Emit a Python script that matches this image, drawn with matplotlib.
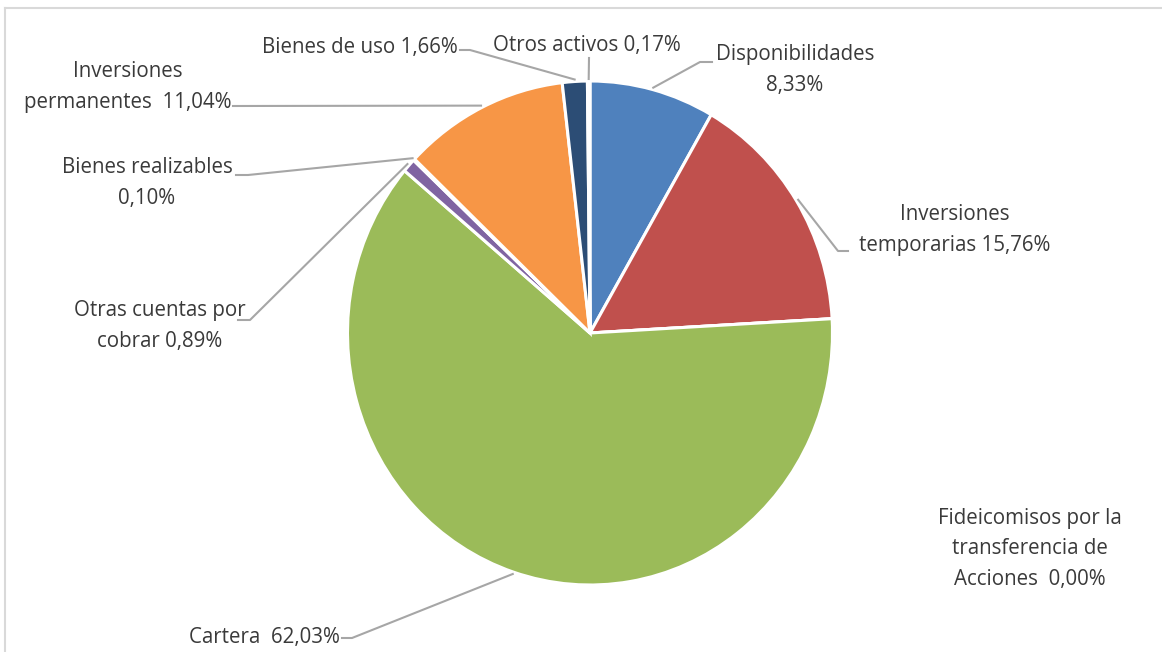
import numpy as np
import matplotlib
matplotlib.use("Agg")
from matplotlib import pyplot as plt
from matplotlib.lines import Line2D

# composition of assets, clockwise from the top
labels = ['Disponibilidades\n8,33%',
          'Inversiones\ntemporarias 15,76%',
          'Fideicomisos por la\ntransferencia de\nAcciones  0,00%',
          'Cartera  62,03%',
          'Otras cuentas por\ncobrar 0,89%',
          'Bienes realizables\n0,10%',
          'Inversiones\npermanentes  11,04%',
          'Bienes de uso 1,66%',
          'Otros activos 0,17%']
values = [8.33, 15.76, 0.00, 62.03, 0.89, 0.10, 11.04, 1.66, 0.17]
colors = ['#4F81BD', '#C0504D', '#9BBB59', '#9BBB59', '#8064A2',
          '#4BACC6', '#F79646', '#2C4D75', '#772C2A']

# label layout in pixels: text anchor, alignment, leader elbow (None = no leader)
label_xy = [(795, 70), (955, 230), (1030, 549), (340, 638), (160, 326),
            (147, 183), (128, 87), (458, 47), (587, 46)]
label_ha = ['center', 'center', 'center', 'right', 'center',
            'center', 'center', 'right', 'center']
elbow = [[(712, 62), (700, 62)], [(848, 251), (838, 251)], None,
         [(342, 638), (352, 638)], [(238, 320), (250, 320)],
         [(236, 175), (248, 175)], [(233, 106)], [(460, 50), (470, 50)],
         [(589, 58)]]

W, H = 1162, 652
cx, cy, rx, ry = 590, 333, 242.5, 252

fig = plt.figure(figsize=(W / 100, H / 100), dpi=100)
fig.patch.set_facecolor('white')

# pie axes, stretched slightly like the original export
ax = fig.add_axes([(cx - rx) / W, (H - cy - ry) / H, 2 * rx / W, 2 * ry / H])
ax.pie(values, colors=colors, startangle=90, counterclock=False, radius=1,
       wedgeprops=dict(edgecolor='white', linewidth=2.2))
ax.set_aspect('auto')
ax.set_xlim(-1, 1)
ax.set_ylim(-1, 1)
ax.axis('off')

# overlay axes in pixel coordinates for labels and leader lines
ov = fig.add_axes([0, 0, 1, 1])
ov.set_xlim(0, W)
ov.set_ylim(H, 0)
ov.axis('off')
ov.patch.set_alpha(0)

fig.add_artist(Line2D([5 / W, 5 / W], [0, 1 - 8 / H], color='#D9D9D9', lw=1.5))
fig.add_artist(Line2D([5 / W, 1], [1 - 8 / H, 1 - 8 / H], color='#D9D9D9', lw=1.5))

total = sum(values)
cum = np.cumsum([0] + values)
for i, lab in enumerate(labels):
    ov.text(label_xy[i][0], label_xy[i][1], lab, ha=label_ha[i], va='center',
            fontsize=14.8, color='#3A3A3A', family='Open Sans', linespacing=1.62)
    if elbow[i] is None:
        continue
    mid = (cum[i] + values[i] / 2) / total * 2 * np.pi
    px = cx + (rx + 2) * np.sin(mid)
    py = cy - (ry + 2) * np.cos(mid)
    pts = elbow[i] + [(px, py)]
    ov.plot([p[0] for p in pts], [p[1] for p in pts], color='#A6A6A6', lw=1.5)

fig.savefig('out.png', dpi=100)
